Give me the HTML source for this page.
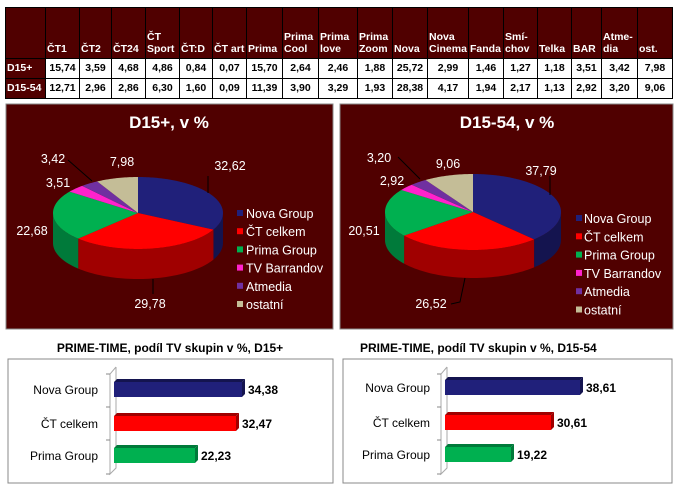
<!DOCTYPE html>
<html><head><meta charset="utf-8">
<style>
html,body{margin:0;padding:0;background:#fff;width:678px;height:490px;overflow:hidden}
body{position:relative;font-family:"Liberation Sans","DejaVu Sans",sans-serif}
table{position:absolute;left:5px;top:7px;border-collapse:collapse;font-size:10.5px;font-weight:bold;table-layout:fixed;width:667px}
td{border:1px solid #000;padding:0 1px;text-align:center;height:19px;line-height:19px;white-space:nowrap;overflow:hidden}
tr.h td{background:#500000;color:#fff;height:47px;line-height:12px;vertical-align:bottom;text-align:left;padding-bottom:3px}
td.r{background:#500000;color:#fff;text-align:left}
svg{position:absolute;left:0;top:0}
</style></head><body>
<table>
<colgroup><col style="width:40px"><col style="width:34px"><col style="width:32px"><col style="width:34px"><col style="width:34px"><col style="width:33px"><col style="width:34px"><col style="width:36px"><col style="width:36px"><col style="width:39px"><col style="width:35px"><col style="width:35px"><col style="width:41px"><col style="width:35px"><col style="width:34px"><col style="width:34px"><col style="width:30px"><col style="width:36px"><col style="width:35px"></colgroup>
<tr class="h"><td></td><td>ČT1</td><td>ČT2</td><td>ČT24</td><td>ČT<br>Sport</td><td>ČT:D</td><td>ČT art</td><td>Prima</td><td>Prima<br>Cool</td><td>Prima<br>love</td><td>Prima<br>Zoom</td><td>Nova</td><td>Nova<br>Cinema</td><td>Fanda</td><td>Smí-<br>chov</td><td>Telka</td><td>BAR</td><td>Atme-<br>dia</td><td>ost.</td></tr>
<tr><td class="r">D15+</td><td>15,74</td><td>3,59</td><td>4,68</td><td>4,86</td><td>0,84</td><td>0,07</td><td>15,70</td><td>2,64</td><td>2,46</td><td>1,88</td><td>25,72</td><td>2,99</td><td>1,46</td><td>1,27</td><td>1,18</td><td>3,51</td><td>3,42</td><td>7,98</td></tr>
<tr><td class="r">D15-54</td><td>12,71</td><td>2,96</td><td>2,86</td><td>6,30</td><td>1,60</td><td>0,09</td><td>11,39</td><td>3,90</td><td>3,29</td><td>1,93</td><td>28,38</td><td>4,17</td><td>1,94</td><td>2,17</td><td>1,13</td><td>2,92</td><td>3,20</td><td>9,06</td></tr>
</table>
<svg id="s" width="678" height="490" xmlns="http://www.w3.org/2000/svg" font-family="Liberation Sans, DejaVu Sans, sans-serif">
<rect x="6" y="104" width="327" height="225" fill="#500000" stroke="#888"/>
<rect x="340" y="104" width="333" height="225" fill="#500000" stroke="#888"/>
<text x="169" y="128" fill="#fff" font-size="17" font-weight="bold" text-anchor="middle">D15+, v %</text>
<text x="507" y="128" fill="#fff" font-size="17" font-weight="bold" text-anchor="middle">D15-54, v %</text>
<g id="p1"></g><g id="p2"></g>
<g fill="#fff" font-size="12.5">
<text x="230" y="170" text-anchor="middle">32,62</text><text x="122" y="166" text-anchor="middle">7,98</text>
<text x="53" y="163" text-anchor="middle">3,42</text><text x="58" y="187" text-anchor="middle">3,51</text>
<text x="32" y="235" text-anchor="middle">22,68</text><text x="150" y="308" text-anchor="middle">29,78</text>
<text x="541" y="175" text-anchor="middle">37,79</text><text x="448" y="168" text-anchor="middle">9,06</text>
<text x="379" y="162" text-anchor="middle">3,20</text><text x="392" y="185" text-anchor="middle">2,92</text>
<text x="364" y="235" text-anchor="middle">20,51</text><text x="431" y="308" text-anchor="middle">26,52</text>
</g>
<g stroke="#000" fill="none" stroke-width="1">
<polyline points="208,176 208,193"/><polyline points="68,160 92,181"/><polyline points="153,279 153,294"/>
<polyline points="398,157 420,179"/><polyline points="550,176 550,195"/>
<polyline points="465,278 460,302 451,304"/>
</g>
<g id="leg"></g>
<text x="170" y="352" font-size="12" font-weight="bold" text-anchor="middle">PRIME-TIME, podíl TV skupin v %, D15+</text>
<text x="360" y="352" font-size="12" font-weight="bold">PRIME-TIME, podíl TV skupin v %, D15-54</text>
<rect x="8" y="359" width="325" height="124" fill="#fff" stroke="#888"/>
<rect x="343" y="359" width="329" height="124" fill="#fff" stroke="#888"/>
<g id="bars"></g>
</svg>
<script>
var NS="http://www.w3.org/2000/svg";
function el(p,t,a,txt){var e=document.createElementNS(NS,t);for(var k in a)e.setAttribute(k,a[k]);if(txt)e.textContent=txt;p.appendChild(e);return e;}
var cols=["#20207a","#ff0000","#00b050","#ff22cc","#7030a0","#c4bd97"];
var side=["#14144f","#a00000","#007a3a","#b0108a","#4c1f70","#8a8468"];
function pie(g,cx,cy,rx,ry,d,vals){
 var s=0;vals.forEach(function(v){s+=v});var a=0,sl=[];
 vals.forEach(function(v,i){var b=a+v/s*360;sl.push([a,b,i]);a=b;});
 function P(t,dy){t=t*Math.PI/180;return (cx+rx*Math.sin(t)).toFixed(2)+","+(cy-ry*Math.cos(t)+dy).toFixed(2);}
 sl.forEach(function(q){var a0=Math.max(q[0],90),b0=Math.min(q[1],270);if(b0<=a0)return;
  var pts=[];for(var t=a0;t<=b0;t+=2)pts.push(P(t,0));pts.push(P(b0,0));
  for(var t=b0;t>=a0;t-=2)pts.push(P(t,d));pts.push(P(a0,d));
  el(g,"polygon",{points:pts.join(" "),fill:side[q[2]]});});
 sl.forEach(function(q){var pts=[cx+","+cy];for(var t=q[0];t<=q[1];t+=1)pts.push(P(t,0));pts.push(P(q[1],0));
  el(g,"polygon",{points:pts.join(" "),fill:cols[q[2]]});});
}
pie(document.getElementById("p1"),138,213,85,36,30,[32.62,29.78,22.68,3.51,3.42,7.98]);
pie(document.getElementById("p2"),473,212,88,38,28,[37.79,26.52,20.51,2.92,3.20,9.06]);
var names=["Nova Group","ČT celkem","Prima Group","TV Barrandov","Atmedia","ostatní"];
var L=document.getElementById("leg");
names.forEach(function(n,i){
 el(L,"rect",{x:237,y:214+i*18.2-4,width:6,height:6,fill:cols[i]});
 el(L,"text",{x:246,y:214+i*18.2+4,fill:"#fff","font-size":12.5},n);
 el(L,"rect",{x:576,y:219+i*18.3-4,width:6,height:6,fill:cols[i]});
 el(L,"text",{x:584,y:219+i*18.3+4,fill:"#fff","font-size":12.5},n);
});
var B=document.getElementById("bars");
function bars(x0,ax,data,ys,lx){
 el(B,"polyline",{points:(ax+6)+",367 "+(ax+6)+",468 "+ax+",474 "+ax+",374 "+(ax+6)+",367",fill:"none",stroke:"#aaa"});
 [374,407,440,474].forEach(function(y){el(B,"line",{x1:ax-4,y1:y,x2:ax,y2:y,stroke:"#888"});});
 data.forEach(function(d,i){var y=ys[i],c=[cols[0],cols[1],cols[2]][i],sc=side[i];
  el(B,"polygon",{points:x0+","+y+" "+(x0+3)+","+(y-3)+" "+(d[0]+3)+","+(y-3)+" "+d[0]+","+y,fill:sc});
  el(B,"polygon",{points:d[0]+","+y+" "+(d[0]+3)+","+(y-3)+" "+(d[0]+3)+","+(y+12)+" "+d[0]+","+(y+15),fill:sc});
  el(B,"rect",{x:x0,y:y,width:d[0]-x0,height:15,fill:c});
  el(B,"text",{x:d[0]+6,y:y+12,"font-size":12,"font-weight":"bold"},d[1]);
  el(B,"text",{x:lx,y:y+12,"font-size":12,"text-anchor":"end"},["Nova Group","ČT celkem","Prima Group"][i]);
 });
}
bars(114,110,[[242,"34,38"],[236,"32,47"],[195,"22,23"]],[382,416,448],98);
bars(445,441,[[580,"38,61"],[551,"30,61"],[511,"19,22"]],[380,415,447],430);
</script>
</body></html>
